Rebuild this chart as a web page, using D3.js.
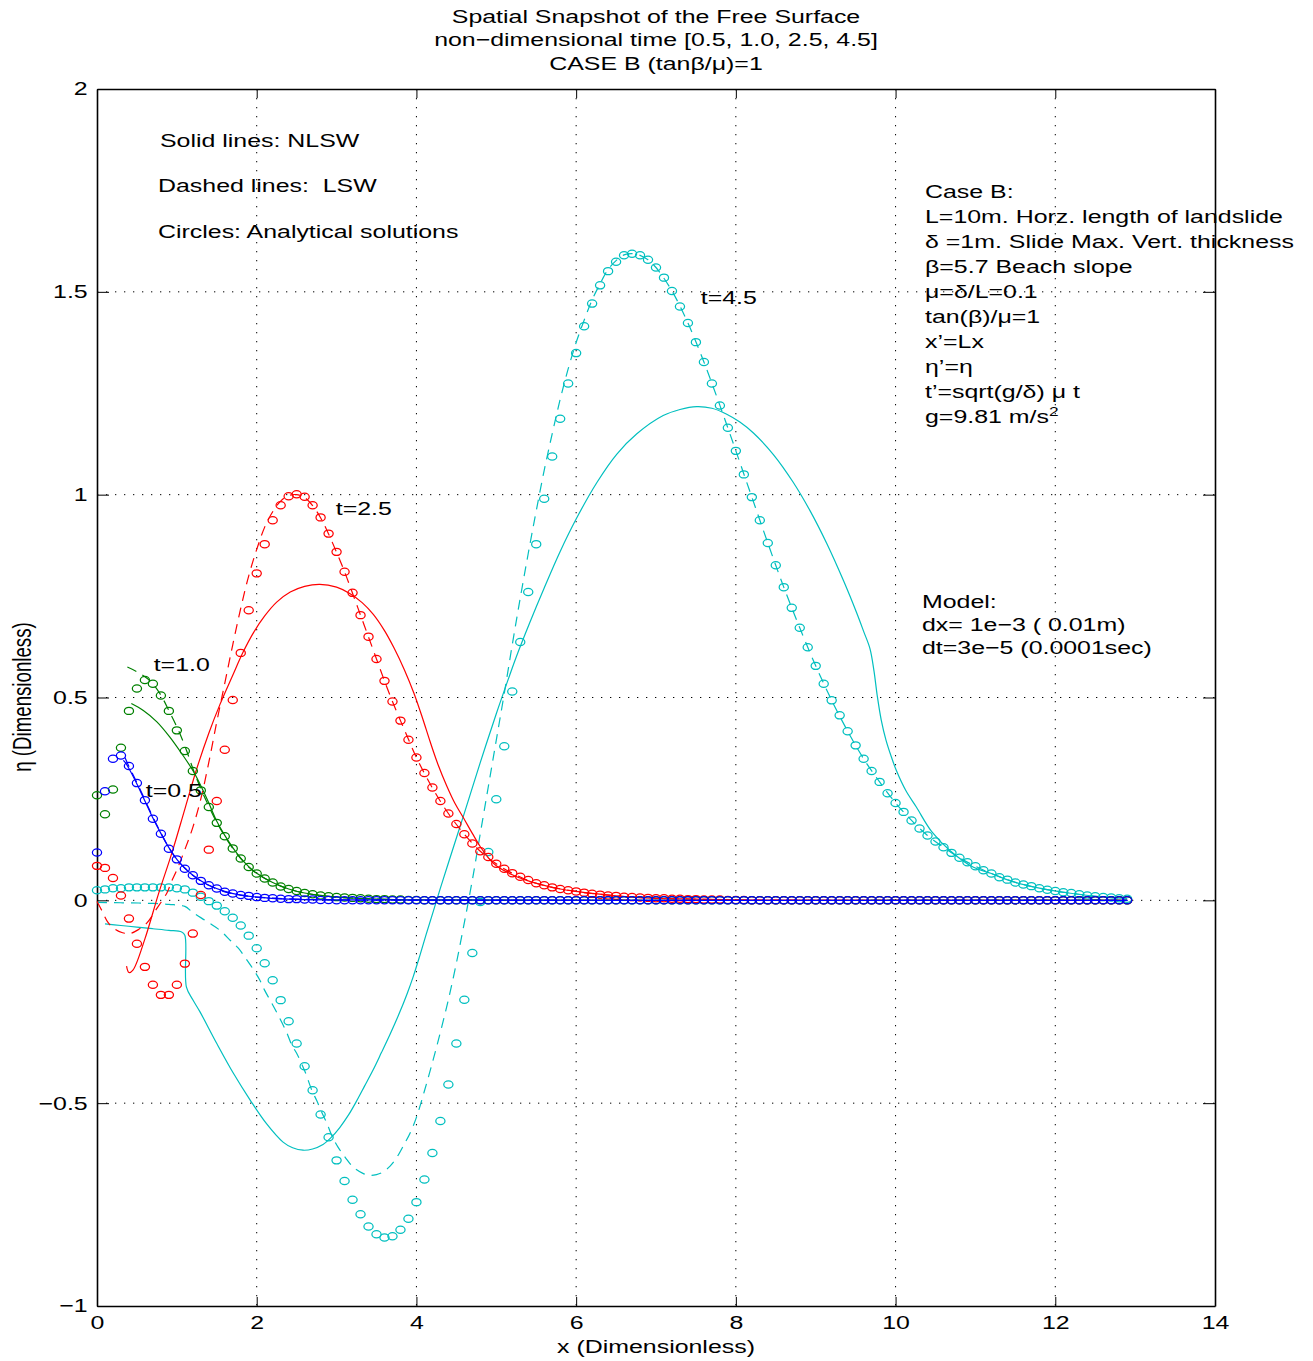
<!DOCTYPE html>
<html>
<head>
<meta charset="utf-8">
<script src="https://cdn.jsdelivr.net/npm/d3@7"></script>
<style>
  body { margin: 0; background: #fff; }
  text { font-family: "Liberation Sans", Arial, Helvetica, sans-serif; fill: #000; white-space: pre; }
</style>
</head>
<body>
<svg id="chart" width="1313" height="1361"></svg>
<script>
// ---- data ----------------------------------------------------------------
var xTicks = [0, 2, 4, 6, 8, 10, 12, 14];
var yTicks = [-1, -0.5, 0, 0.5, 1, 1.5, 2];

// analytical solutions sampled every 0.1 from x = 0 to 12.9
var xAnalytic = d3.range(130).map(function(i) { return +(i / 10).toFixed(1); });

var blueCircles = [
  0.118,0.269,0.349,0.357,0.331,0.289,0.247,0.201,0.164,0.127,
  0.101,0.078,0.062,0.048,0.037,0.029,0.021,0.017,0.013,0.011,
  0.008,0.006,0.005,0.004,0.003,0.003,0.002,0.002,0.001,0.001,
  0,0,0,0,0,0,0,0,0,0, 0,0,0,0,0,0,0,0,0,0, 0,0,0,0,0,0,0,0,0,0,
  0,0,0,0,0,0,0,0,0,0, 0,0,0,0,0,0,0,0,0,0, 0,0,0,0,0,0,0,0,0,0,
  0,0,0,0,0,0,0,0,0,0, 0,0,0,0,0,0,0,0,0,0, 0,0,0,0,0,0,0,0,0,0,
  0,0,0,0,0,0,0,0,0,0
];
var greenCircles = [
  0.259,0.212,0.273,0.376,0.467,0.522,0.543,0.534,0.505,0.467,
  0.419,0.368,0.319,0.271,0.230,0.191,0.158,0.128,0.103,0.082,
  0.066,0.054,0.044,0.034,0.028,0.023,0.018,0.015,0.012,0.010,
  0.008,0.007,0.006,0.005,0.004,0.003,0.003,0.002,0.002,0.001,
  0.001,0,0,0,0,0,0,0,0,0,
  0,0,0,0,0,0,0,0,0,0, 0,0,0,0,0,0,0,0,0,0, 0,0,0,0,0,0,0,0,0,0,
  0,0,0,0,0,0,0,0,0,0, 0,0,0,0,0,0,0,0,0,0, 0,0,0,0,0,0,0,0,0,0,
  0,0,0,0,0,0,0,0,0,0, 0,0,0,0,0,0,0,0,0,0
];
var redCircles = [
  0.085,0.080,0.055,0.012,-0.045,-0.107,-0.164,-0.208,-0.233,-0.233,
  -0.208,-0.156,-0.082,0.013,0.125,0.245,0.371,0.494,0.610,0.715,
  0.806,0.878,0.937,0.974,0.996,1.001,0.995,0.974,0.944,0.904,
  0.859,0.810,0.758,0.703,0.650,0.595,0.541,0.490,0.443,0.396,
  0.352,0.314,0.278,0.245,0.214,0.188,0.163,0.140,0.121,0.107,
  0.090,0.078,0.067,0.058,0.050,0.042,0.037,0.032,0.028,0.025,
  0.022,0.019,0.016,0.014,0.012,0.011,0.009,0.008,0.007,0.006,
  0.005,0.005,0.004,0.004,0.003,0.003,0.002,0.002,0.002,0.001,
  0.001,0.001,0,0,0,0,0,0,0,0,
  0,0,0,0,0,0,0,0,0,0, 0,0,0,0,0,0,0,0,0,0, 0,0,0,0,0,0,0,0,0,0,
  0,0,0,0,0,0,0,0,0,0
];
var cyanCircles = [
  0.025,0.027,0.030,0.030,0.032,0.032,0.032,0.032,0.032,0.032,
  0.030,0.027,0.019,0.009,-0.002,-0.013,-0.027,-0.043,-0.062,-0.087,
  -0.118,-0.155,-0.197,-0.246,-0.298,-0.353,-0.409,-0.468,-0.528,-0.584,
  -0.641,-0.692,-0.738,-0.774,-0.804,-0.823,-0.831,-0.828,-0.812,-0.785,
  -0.744,-0.688,-0.623,-0.544,-0.454,-0.353,-0.245,-0.130,-0.004,0.119,
  0.249,0.380,0.515,0.637,0.760,0.878,0.990,1.094,1.187,1.274,
  1.349,1.415,1.471,1.516,1.551,1.574,1.590,1.594,1.590,1.579,
  1.560,1.535,1.502,1.464,1.423,1.376,1.327,1.274,1.220,1.165,
  1.108,1.050,0.994,0.937,0.881,0.826,0.772,0.721,0.672,0.624,
  0.578,0.534,0.493,0.456,0.417,0.382,0.349,0.319,0.292,0.264,
  0.240,0.218,0.197,0.177,0.160,0.145,0.131,0.117,0.105,0.094,
  0.084,0.074,0.066,0.057,0.051,0.044,0.039,0.035,0.030,0.026,
  0.023,0.020,0.018,0.015,0.012,0.010,0.008,0.007,0.005,0.004
];

// NLSW (solid) and LSW (dashed) numerical profiles, [x, eta]
var blueSolid = [[0.33,0.345],[0.36,0.338],[0.4,0.325],[0.5,0.287],[0.6,0.245],[0.7,0.203],[0.8,0.165],
  [0.9,0.13],[1.0,0.101],[1.1,0.079],[1.2,0.062],[1.3,0.048],[1.4,0.037],[1.6,0.022],[1.8,0.013],
  [2.0,0.008],[2.4,0.003],[3.0,0.001],[12.9,0]];
var blueDashed = [[0.35,0.352],[0.4,0.33],[0.5,0.29],[0.6,0.248],[0.7,0.205],[0.8,0.166],[0.9,0.13],
  [1.0,0.101],[1.2,0.062],[1.4,0.037],[1.6,0.021],[1.8,0.013],[2.0,0.008],[2.5,0.003],[3.0,0.001],[12.9,0]];
var greenSolid = [[0.43,0.485],[0.58,0.468],[0.75,0.44],[0.91,0.403],[1.06,0.362],[1.21,0.317],[1.33,0.27],
  [1.4,0.24],[1.5,0.195],[1.6,0.16],[1.7,0.13],[1.8,0.104],[1.9,0.083],[2.0,0.067],[2.2,0.044],[2.4,0.028],
  [2.6,0.018],[2.8,0.012],[3.0,0.008],[3.5,0.003],[4.0,0.001],[12.9,0]];
var greenDashed = [[0.38,0.575],[0.54,0.559],[0.68,0.538],[0.79,0.509],[0.91,0.464],[1.02,0.419],[1.12,0.37],
  [1.2,0.325],[1.3,0.275],[1.4,0.232],[1.5,0.192],[1.6,0.158],[1.7,0.128],[1.8,0.103],[1.9,0.082],[2.0,0.066],
  [2.2,0.044],[2.4,0.028],[2.6,0.018],[2.8,0.012],[3.0,0.008],[3.5,0.003],[4.0,0.001],[12.9,0]];
var redSolid = [[0.37,-0.162],[0.4,-0.178],[0.45,-0.172],[0.6,-0.095],[0.77,0.016],[0.935,0.115],[1.1,0.225],
  [1.25,0.325],[1.4,0.412],[1.54,0.483],[1.7,0.555],[1.83,0.612],[1.96,0.66],[2.1,0.701],[2.25,0.735],
  [2.42,0.76],[2.6,0.774],[2.79,0.779],[3.0,0.772],[3.17,0.756],[3.32,0.734],[3.46,0.705],[3.6,0.665],
  [3.72,0.622],[3.85,0.568],[3.97,0.51],[4.08,0.447],[4.17,0.392],[4.27,0.335],[4.38,0.282],[4.48,0.24],
  [4.59,0.203],[4.7,0.165],[4.8,0.132],[4.9,0.105],[5.0,0.085],[5.2,0.063],[5.4,0.048],[5.6,0.037],
  [5.8,0.028],[6.0,0.022],[6.5,0.011],[7.0,0.005],[7.5,0.003],[8.0,0.001],[12.9,0]];
var redDashed = [[0.0,-0.003],[0.06,-0.025],[0.14,-0.055],[0.23,-0.072],[0.32,-0.08],[0.41,-0.082],
  [0.52,-0.072],[0.62,-0.057],[0.75,-0.02],[0.88,0.02],[0.93,0.045],[1.0,0.075],[1.1,0.125],[1.2,0.18],
  [1.3,0.25],[1.4,0.34],[1.5,0.44],[1.6,0.535],[1.7,0.63],[1.8,0.72],[1.9,0.8],[2.0,0.865],[2.1,0.92],
  [2.2,0.958],[2.3,0.984],[2.4,0.998],[2.5,1.0],[2.6,0.993],[2.7,0.973],[2.8,0.943],[2.9,0.903],[3.0,0.858],
  [3.1,0.81],[3.2,0.757],[3.3,0.703],[3.4,0.649],[3.5,0.595],[3.6,0.541],[3.7,0.49],[3.8,0.443],[3.9,0.397],
  [4.0,0.352],[4.2,0.277],[4.4,0.214],[4.6,0.163],[4.8,0.121],[5.0,0.09],[5.2,0.067],[5.5,0.042],[6.0,0.022],
  [6.5,0.011],[7.0,0.005],[7.5,0.003],[8.0,0.001],[12.9,0]];
var cyanSolid = [[0.1,-0.058],[0.3,-0.062],[0.5,-0.066],[0.7,-0.07],[0.9,-0.074],[1.06,-0.078],[1.1,-0.086],
  [1.12,-0.214],[1.2,-0.245],[1.29,-0.275],[1.5,-0.353],[1.71,-0.427],[1.92,-0.493],[2.12,-0.55],
  [2.33,-0.596],[2.45,-0.61],[2.58,-0.616],[2.7,-0.613],[2.83,-0.602],[2.93,-0.585],[3.04,-0.56],
  [3.15,-0.529],[3.25,-0.495],[3.35,-0.458],[3.46,-0.417],[3.56,-0.376],[3.67,-0.33],[3.78,-0.281],
  [3.88,-0.232],[3.96,-0.188],[4.04,-0.138],[4.12,-0.085],[4.21,-0.028],[4.3,0.03],[4.4,0.092],[4.6,0.215],
  [4.8,0.34],[5.0,0.46],[5.07,0.5],[5.25,0.6],[5.42,0.685],[5.6,0.77],[5.8,0.86],[6.0,0.94],[6.26,1.03],
  [6.51,1.1],[6.76,1.15],[7.09,1.195],[7.3,1.21],[7.51,1.217],[7.7,1.213],[7.88,1.199],[8.05,1.179],
  [8.22,1.152],[8.47,1.099],[8.72,1.03],[8.93,0.96],[9.14,0.879],[9.35,0.787],[9.51,0.71],[9.6,0.663],
  [9.68,0.62],[9.73,0.565],[9.77,0.505],[9.82,0.445],[9.88,0.395],[9.95,0.352],[10.01,0.32],[10.13,0.27],
  [10.26,0.23],[10.45,0.17],[10.68,0.123],[10.97,0.082],[11.2,0.066],[11.5,0.044],[11.8,0.03],[12.1,0.02],
  [12.5,0.01],[12.9,0.004]];
var cyanDashed = [[0.0,-0.005],[0.3,-0.006],[0.6,-0.007],[0.9,-0.01],[1.1,-0.015],[1.2,-0.03],[1.39,-0.054],
  [1.54,-0.074],[1.67,-0.099],[1.77,-0.118],[1.88,-0.148],[1.95,-0.168],[2.04,-0.197],[2.1,-0.222],
  [2.19,-0.254],[2.25,-0.276],[2.32,-0.303],[2.38,-0.328],[2.44,-0.357],[2.5,-0.377],[2.6,-0.42],
  [2.69,-0.468],[2.75,-0.493],[2.82,-0.525],[2.88,-0.55],[2.94,-0.58],[3.02,-0.609],[3.11,-0.634],
  [3.21,-0.658],[3.33,-0.673],[3.42,-0.678],[3.5,-0.676],[3.58,-0.67],[3.67,-0.655],[3.75,-0.635],
  [3.85,-0.6],[3.92,-0.574],[4.0,-0.535],[4.1,-0.47],[4.2,-0.4],[4.3,-0.325],[4.4,-0.245],[4.5,-0.155],
  [4.6,-0.055],[4.7,0.05],[4.8,0.165],[4.9,0.28],[5.0,0.395],[5.1,0.51],[5.2,0.63],[5.3,0.745],[5.4,0.855],
  [5.5,0.96],[5.6,1.06],[5.7,1.15],[5.8,1.235],[5.9,1.31],[6.0,1.375],[6.1,1.43],[6.2,1.48],[6.3,1.52],
  [6.4,1.555],[6.5,1.577],[6.6,1.591],[6.7,1.594],[6.8,1.59],[6.9,1.579],[7.0,1.56],[7.2,1.502],[7.4,1.423],
  [7.6,1.327],[7.8,1.22],[8.0,1.108],[8.2,0.994],[8.4,0.881],[8.6,0.772],[8.8,0.672],[9.0,0.578],[9.2,0.493],
  [9.4,0.417],[9.6,0.349],[9.8,0.292],[10.0,0.24],[10.2,0.197],[10.4,0.16],[10.6,0.131],[10.8,0.105],
  [11.0,0.084],[11.2,0.066],[11.4,0.051],[11.6,0.039],[11.8,0.03],[12.0,0.023],[12.3,0.015],[12.6,0.008],
  [12.9,0.004]];

var titleLines = ["Spatial Snapshot of the Free Surface",
                  "non\u2212dimensional time [0.5, 1.0, 2.5, 4.5]",
                  "CASE B (tan\u03b2/\u03bc)=1"];
var legendNotes = ["Solid lines: NLSW", "Dashed lines:  LSW", "Circles: Analytical solutions"];
var caseNotes = ["Case B:", "L=10m. Horz. length of landslide", "\u03b4 =1m. Slide Max. Vert. thickness",
  "\u03b2=5.7 Beach slope", "\u03bc=\u03b4/L=0.1", "tan(\u03b2)/\u03bc=1", "x\u2019=Lx", "\u03b7\u2019=\u03b7",
  "t\u2019=sqrt(g/\u03b4) \u03bc t", "g=9.81 m/s"];
var modelNotes = ["Model:", "dx= 1e\u22123 ( 0.01m)", "dt=3e\u22125 (0.0001sec)"];
var timeLabels = [{text: "t=0.5", x: 0.61, y: 0.272}, {text: "t=1.0", x: 0.71, y: 0.582},
                  {text: "t=2.5", x: 2.99, y: 0.967}, {text: "t=4.5", x: 7.56, y: 1.485}];

// ---- layout ----------------------------------------------------------------
var SX = 1.333, FS = 18.7;   // the figure is stretched horizontally
var svg = d3.select("#chart");
var x = d3.scaleLinear().domain([0, 14]).range([97, 1215]);
var y = d3.scaleLinear().domain([-1, 2]).range([1306, 89]);

function addText(g, px, py, str, anchor) {
    return g.append("text")
        .attr("transform", "translate(" + px + "," + py + ") scale(" + SX + ",1)")
        .attr("text-anchor", anchor || "start")
        .attr("dy", "0.35em")
        .attr("font-size", FS)
        .text(str);
}

/* grid */
var grid = svg.append("g").attr("stroke", "#000").attr("stroke-width", 1).attr("stroke-dasharray", "1.3,7.7");
grid.selectAll(".gx").data(xTicks.filter(function(d) { return d > 0 && d < 14; }))
    .join("line").attr("x1", x).attr("x2", x).attr("y1", y(2)).attr("y2", y(-1));
grid.selectAll(".gy").data(yTicks.filter(function(d) { return d > -1 && d < 2; }))
    .join("line").attr("y1", y).attr("y2", y).attr("x1", x(0)).attr("x2", x(14));

/* axes, ticks pointing inward */
function styleAxis(g) {
    g.attr("font-size", FS).attr("font-family", null);
    g.select(".domain").attr("stroke", "#000").attr("stroke-width", 1.6);
    g.selectAll(".tick line").attr("stroke", "#000");
    g.selectAll(".tick text").attr("transform", "scale(" + SX + ",1)").attr("fill", "#000");
}
var fmt = d3.format("~g");
svg.append("g").attr("transform", "translate(0," + y(-1) + ")")
    .call(d3.axisBottom(x).tickValues(xTicks).tickSizeInner(-9).tickSizeOuter(0).tickPadding(10).tickFormat(fmt))
    .call(styleAxis);
svg.append("g").attr("transform", "translate(0," + y(2) + ")")
    .call(d3.axisTop(x).tickValues(xTicks).tickSizeInner(-9).tickSizeOuter(0).tickFormat(""))
    .call(styleAxis);
svg.append("g").attr("transform", "translate(" + x(0) + ",0)")
    .call(d3.axisLeft(y).tickValues(yTicks).tickSizeInner(-12).tickSizeOuter(0).tickPadding(7).tickFormat(fmt))
    .call(styleAxis);
svg.append("g").attr("transform", "translate(" + x(14) + ",0)")
    .call(d3.axisRight(y).tickValues(yTicks).tickSizeInner(-12).tickSizeOuter(0).tickFormat(""))
    .call(styleAxis);

/* series (drawn so that t=0.5 ends up on top, as in the original) */
var line = d3.line()
    .x(function(d) { return x(d[0]); })
    .y(function(d) { return y(d[1]); })
    .curve(d3.curveCatmullRom.alpha(0.5));

var series = [
    {color: "#00bfbf", solid: cyanSolid,  dashed: cyanDashed,  circles: cyanCircles},
    {color: "#ff0000", solid: redSolid,   dashed: redDashed,   circles: redCircles},
    {color: "#008000", solid: greenSolid, dashed: greenDashed, circles: greenCircles},
    {color: "#0000ff", solid: blueSolid,  dashed: blueDashed,  circles: blueCircles}
];

var plot = svg.append("g");
series.forEach(function(s) {
    var g = plot.append("g");
    g.selectAll("ellipse").data(s.circles)
        .join("ellipse")
        .attr("cx", function(d, i) { return x(xAnalytic[i]); })
        .attr("cy", function(d) { return y(d); })
        .attr("rx", 4.6).attr("ry", 3.6)
        .attr("fill", "none").attr("stroke", s.color).attr("stroke-width", 1.25);
    g.append("path").attr("d", line(s.solid))
        .attr("fill", "none").attr("stroke", s.color).attr("stroke-width", 1.2);
    g.append("path").attr("d", line(s.dashed))
        .attr("fill", "none").attr("stroke", s.color).attr("stroke-width", 1.2)
        .attr("stroke-dasharray", "10,7");
});

/* text */
var txt = svg.append("g");
titleLines.forEach(function(t, i) { addText(txt, 656, 16 + i * 23.5, t, "middle"); });
addText(txt, 656, 1346, "x (Dimensionless)", "middle");
txt.append("text")
    .attr("transform", "translate(22,697) scale(" + SX + ",1) rotate(-90)")
    .attr("text-anchor", "middle").attr("dy", "0.35em").attr("font-size", FS)
    .text("\u03b7 (Dimensionless)");

legendNotes.forEach(function(t, i) { addText(txt, i === 0 ? 160 : 158, 140 + i * 45.5, t); });
caseNotes.forEach(function(t, i) {
    var el = addText(txt, 925, 191 + i * 25, t);
    if (i === caseNotes.length - 1) {
        el.append("tspan").attr("dy", "-0.5em").attr("font-size", 13).text("2");
    }
});
modelNotes.forEach(function(t, i) { addText(txt, 922, 601 + i * 23, t); });
timeLabels.forEach(function(l) { addText(txt, x(l.x), y(l.y), l.text); });
</script>
</body>
</html>
